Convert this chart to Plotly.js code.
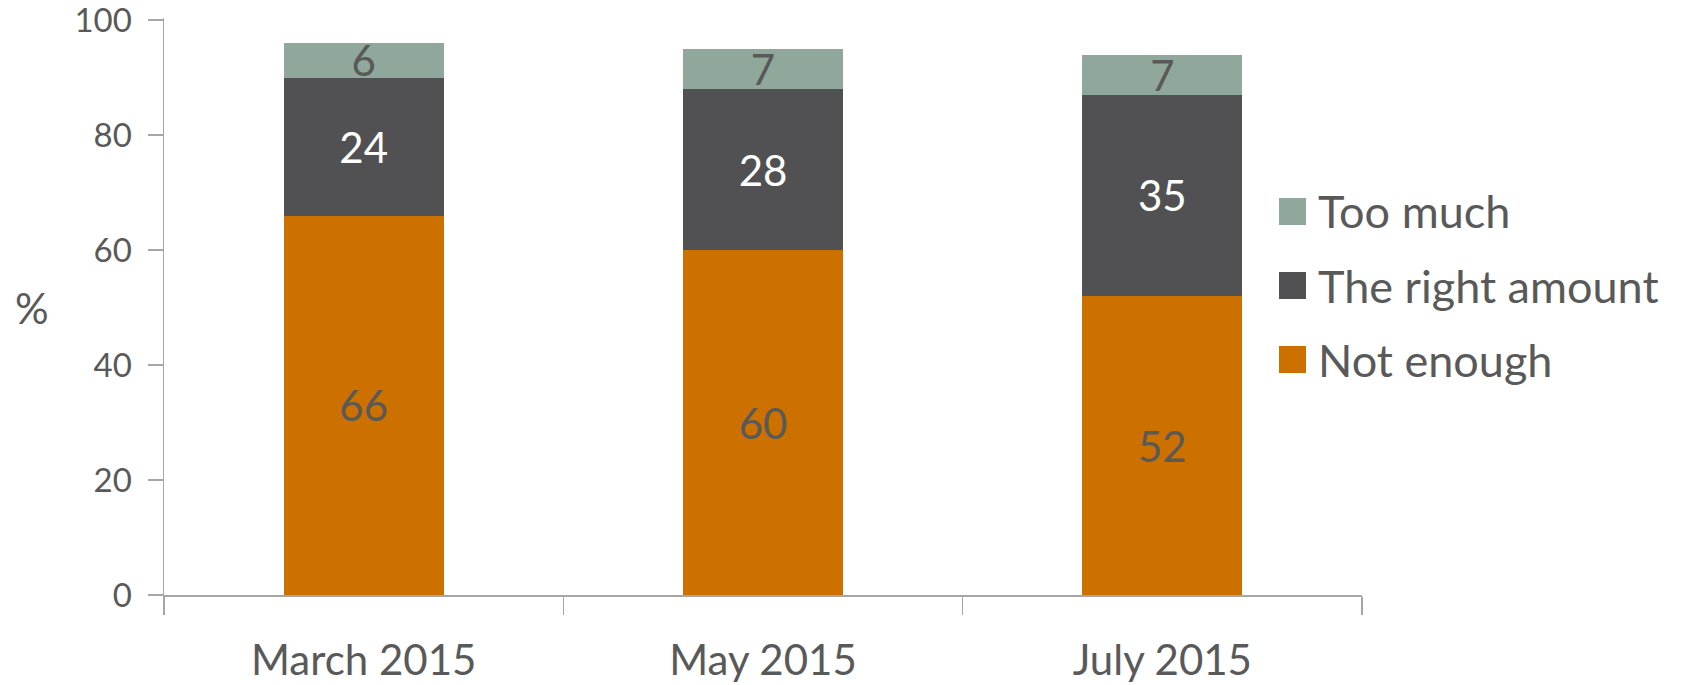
<!DOCTYPE html>
<html>
<head>
<meta charset="utf-8">
<script src="https://cdn.plot.ly/plotly-3.0.1.min.js"></script>
<style>html,body{margin:0;padding:0;background:#fff;}#chart{width:1683px;height:685px;}</style>
</head>
<body>
<div id="chart"></div>
<script>
// ---- data ----
const categories = ['March 2015', 'May 2015', 'July 2015'];
const notEnough = [66, 60, 52];
const rightAmount = [24, 28, 35];
const tooMuch = [6, 7, 7];
const seriesNames = ['Not enough', 'The right amount', 'Too much'];
const yTicks = [0, 20, 40, 60, 80, 100];
const yTitle = '%';

// ---- styles ----
const W = 1683, H = 685;
const M = {l: 164, r: 321, t: 18, b: 90};
const yMax = 100.35;
const colors = ['#CC7000', '#515153', '#8FA89B'];
const labelColors = ['#595959', '#ffffff', '#595959'];
const textGray = '#595959';
const axisGray = '#a6a6a6';
const FONT = 'Lato, "Open Sans", sans-serif';

const seriesValues = [notEnough, rightAmount, tooMuch];
const traces = seriesValues.map((vals, i) => ({
  type: 'bar',
  name: seriesNames[i],
  x: categories,
  y: vals,
  text: vals.map(v => String(v)),
  textposition: 'inside',
  insidetextanchor: 'middle',
  textangle: 0,
  constraintext: 'none',
  textfont: {family: FONT, size: 42, color: labelColors[i]},
  marker: {color: colors[i], line: {width: 0}},
  hoverinfo: 'skip'
}));

// manual legend (large square keys)
const pw = W - M.l - M.r, ph = H - M.t - M.b;
const px = x => (x - M.l) / pw;
const py = y => (H - M.b - y) / ph;
const legendOrder = [2, 1, 0];
const legendRowY = [211.5, 285.5, 359.5];
const shapes = [], annotations = [];
legendOrder.forEach((si, r) => {
  const cy = legendRowY[r];
  shapes.push({type: 'rect', xref: 'paper', yref: 'paper',
    x0: px(1279), x1: px(1306), y0: py(cy + 13.5), y1: py(cy - 13.5),
    fillcolor: colors[si], line: {width: 0}});
  annotations.push({xref: 'paper', yref: 'paper', x: px(1316), y: py(cy),
    xanchor: 'left', yanchor: 'middle', showarrow: false,
    text: seriesNames[si], font: {family: FONT, size: 45, color: textGray}});
});
annotations.push({xref: 'paper', yref: 'paper', x: px(32), y: py(308),
  xanchor: 'center', yanchor: 'middle', showarrow: false,
  text: yTitle, font: {family: FONT, size: 42, color: textGray}});

const layout = {
  width: W, height: H,
  margin: M,
  paper_bgcolor: '#ffffff', plot_bgcolor: '#ffffff',
  barmode: 'stack',
  bargap: 0.6,
  showlegend: false,
  font: {family: FONT, color: textGray},
  xaxis: {
    type: 'category',
    tickson: 'boundaries',
    ticks: 'outside', ticklen: 18, tickwidth: 1.5, tickcolor: axisGray,
    showline: true, linecolor: axisGray, linewidth: 1.5,
    showgrid: false, zeroline: false,
    tickfont: {family: FONT, size: 42, color: textGray},
    ticklabelstandoff: 28
  },
  yaxis: {
    range: [0, yMax],
    tickvals: yTicks,
    ticks: 'outside', ticklen: 15, tickwidth: 1.5, tickcolor: axisGray,
    showline: true, linecolor: axisGray, linewidth: 1.5,
    showgrid: false, zeroline: false,
    tickfont: {family: FONT, size: 33, color: textGray},
    ticklabelstandoff: 9,
    ticklabeloverflow: 'allow'
  },
  shapes: shapes,
  annotations: annotations
};

Plotly.newPlot('chart', traces, layout, {displayModeBar: false, staticPlot: true});
</script>
</body>
</html>
